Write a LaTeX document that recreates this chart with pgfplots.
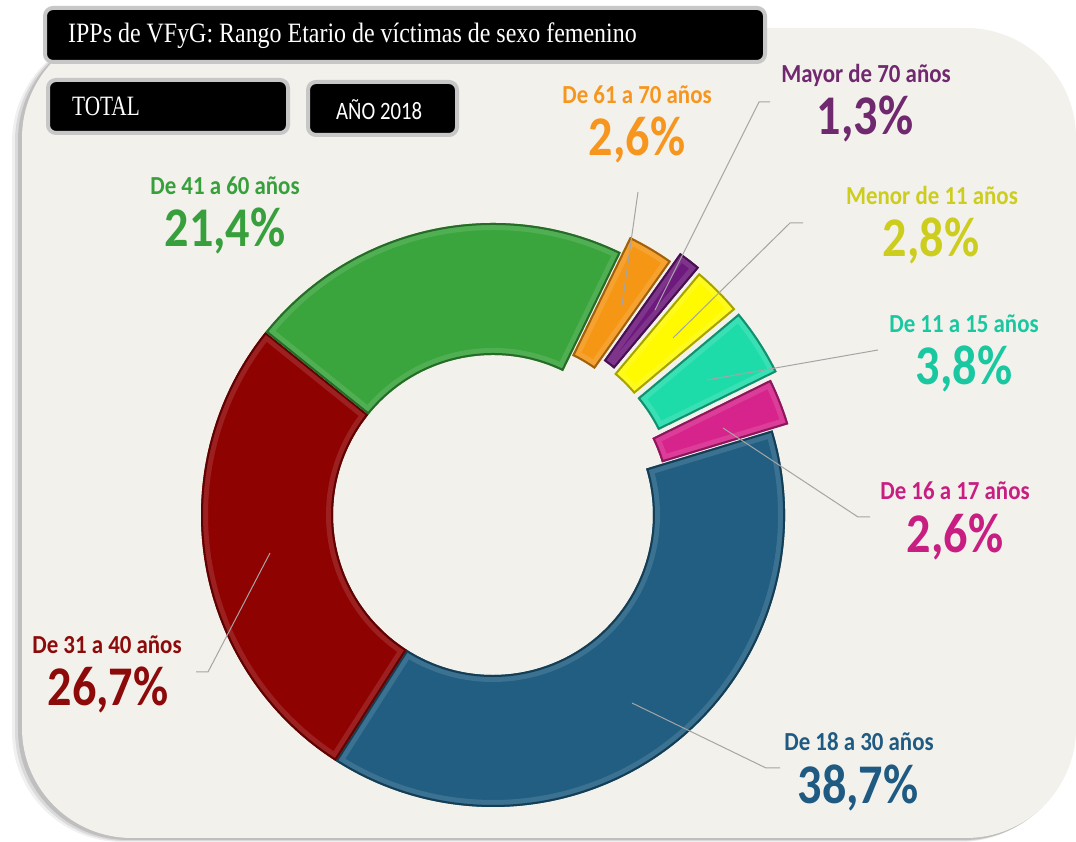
\documentclass[border=0pt]{standalone}
\usepackage{pgfplots}
\pgfplotsset{compat=1.18}
\usepackage{pgfplotstable}
\usepackage{graphicx}
\usepackage{fontspec}
\setmainfont{Carlito}
\newfontfamily\seriffont{Liberation Serif}

\definecolor{cardbg}{RGB}{243,241,236}
\definecolor{cblue}{RGB}{33,94,130}
\definecolor{cred}{RGB}{143,2,2}
\definecolor{cgreen}{RGB}{58,165,60}
\definecolor{corange}{RGB}{245,150,20}
\definecolor{cpurple}{RGB}{110,25,125}
\definecolor{cyellow}{RGB}{255,250,0}
\definecolor{cteal}{RGB}{30,220,170}
\definecolor{cpink}{RGB}{215,35,140}
\definecolor{lblue}{RGB}{31,90,130}
\definecolor{lred}{RGB}{140,10,10}
\definecolor{lgreen}{RGB}{55,160,60}
\definecolor{lorange}{RGB}{247,150,30}
\definecolor{lpurple}{RGB}{112,40,110}
\definecolor{lyellow}{RGB}{205,205,30}
\definecolor{lteal}{RGB}{25,200,160}
\definecolor{lpink}{RGB}{200,30,130}
\definecolor{leader}{RGB}{165,165,165}

% slices in clockwise order starting at 50 degrees; off = explosion offset
\pgfplotstableread{
name val off col
Menor11 2.8 26 cyellow
De11a15 3.8 26 cteal
De16a17 2.6 17 cpink
De18a30 38.7 0 cblue
De31a40 26.7 0 cred
De41a60 21.4 0 cgreen
De61a70 2.6 18 corange
Mayor70 1.3 30 cpurple
}\slices

\begin{document}
\begin{tikzpicture}
\begin{axis}[x=1pt,y=1pt,xmin=0,xmax=1076,ymin=0,ymax=842,hide axis,clip=false,
  scale only axis]
% background
\fill[white] (axis cs:0,0) rectangle (axis cs:1076,842);
% card shadow
\fill[black,opacity=0.06,rounded corners=110pt] (axis cs:12,0) rectangle (axis cs:1070,810);
\fill[black,opacity=0.09,rounded corners=110pt] (axis cs:15,1) rectangle (axis cs:1072,811);
\fill[black,opacity=0.12,rounded corners=110pt] (axis cs:18,2) rectangle (axis cs:1074,812);
\fill[cardbg,rounded corners=110pt] (axis cs:22,4) rectangle (axis cs:1076,814);

% donut slices
\pgfplotstablegetrowsof{\slices}
\pgfmathtruncatemacro\N{\pgfplotsretval-1}
\xdef\cur{50}
\pgfplotsforeachungrouped \i in {0,...,\N}{%
  \pgfplotstablegetelem{\i}{val}\of\slices \let\v=\pgfplotsretval
  \pgfplotstablegetelem{\i}{off}\of\slices \let\o=\pgfplotsretval
  \pgfplotstablegetelem{\i}{col}\of\slices \let\c=\pgfplotsretval
  \pgfmathsetmacro\a{\cur}
  \pgfmathsetmacro\b{\cur-\v*360/99.9}
  \pgfmathsetmacro\m{(\a+\b)/2}
  \pgfmathsetmacro\cx{493+\o*cos(\m)}
  \pgfmathsetmacro\cy{327+\o*sin(\m)}
  \pgfmathsetmacro\xa{\cx+292*cos(\a)}
  \pgfmathsetmacro\ya{\cy+292*sin(\a)}
  \pgfmathsetmacro\xb{\cx+160*cos(\b)}
  \pgfmathsetmacro\yb{\cy+160*sin(\b)}
  \edef\doit{%
    \noexpand\fill[\c] (axis cs:\xa,\ya) arc[start angle=\a,end angle=\b,radius=292pt] -- (axis cs:\xb,\yb) arc[start angle=\b,end angle=\a,radius=160pt] -- cycle;
    \noexpand\begin{scope}
    \noexpand\clip (axis cs:\xa,\ya) arc[start angle=\a,end angle=\b,radius=292pt] -- (axis cs:\xb,\yb) arc[start angle=\b,end angle=\a,radius=160pt] -- cycle;
    \noexpand\draw[line width=14pt,\c!70!white,opacity=0.4,line join=round] (axis cs:\xa,\ya) arc[start angle=\a,end angle=\b,radius=292pt] -- (axis cs:\xb,\yb) arc[start angle=\b,end angle=\a,radius=160pt] -- cycle;
    \noexpand\draw[line width=4pt,\c!65!black,line join=round] (axis cs:\xa,\ya) arc[start angle=\a,end angle=\b,radius=292pt] -- (axis cs:\xb,\yb) arc[start angle=\b,end angle=\a,radius=160pt] -- cycle;
    \noexpand\end{scope}
  }%
  \doit
  \xdef\cur{\b}
}

% leader lines
\draw[leader,line width=1pt] (axis cs:622,537) -- (axis cs:638,650);
\draw[leader,line width=1pt] (axis cs:655,532) -- (axis cs:759,740) -- (axis cs:770,740);
\draw[leader,line width=1pt] (axis cs:673,504) -- (axis cs:790,619) -- (axis cs:803,619);
\draw[leader,line width=1pt] (axis cs:707,462) -- (axis cs:878,492);
\draw[leader,line width=1pt] (axis cs:723,414) -- (axis cs:858,325) -- (axis cs:870,325);
\draw[leader,line width=1pt] (axis cs:632,139) -- (axis cs:766,74) -- (axis cs:780,74);
\draw[leader,line width=1pt] (axis cs:270,289) -- (axis cs:208,170) -- (axis cs:196,170);

% labels
\node[text=lgreen, font=\bfseries\fontsize{26}{28}\selectfont] at (axis cs:225,656) {\scalebox{0.88}[1]{De 41 a 60 años}};
\node[text=lgreen, font=\bfseries\fontsize{56}{58}\selectfont] at (axis cs:225,611) {\scalebox{0.86}[1]{21,4\%}};
\node[text=lorange, font=\bfseries\fontsize{26}{28}\selectfont] at (axis cs:637,747) {\scalebox{0.88}[1]{De 61 a 70 años}};
\node[text=lorange, font=\bfseries\fontsize{56}{58}\selectfont] at (axis cs:637,702) {\scalebox{0.86}[1]{2,6\%}};
\node[text=lpurple, font=\bfseries\fontsize{26}{28}\selectfont] at (axis cs:866,767) {\scalebox{0.88}[1]{Mayor de 70 años}};
\node[text=lpurple, font=\bfseries\fontsize{56}{58}\selectfont] at (axis cs:865,723) {\scalebox{0.86}[1]{1,3\%}};
\node[text=lyellow, font=\bfseries\fontsize{26}{28}\selectfont] at (axis cs:932,647) {\scalebox{0.88}[1]{Menor de 11 años}};
\node[text=lyellow, font=\bfseries\fontsize{56}{58}\selectfont] at (axis cs:931,601) {\scalebox{0.86}[1]{2,8\%}};
\node[text=lteal, font=\bfseries\fontsize{26}{28}\selectfont] at (axis cs:964,518) {\scalebox{0.88}[1]{De 11 a 15 años}};
\node[text=lteal, font=\bfseries\fontsize{56}{58}\selectfont] at (axis cs:964,473) {\scalebox{0.86}[1]{3,8\%}};
\node[text=lpink, font=\bfseries\fontsize{26}{28}\selectfont] at (axis cs:955,351) {\scalebox{0.88}[1]{De 16 a 17 años}};
\node[text=lpink, font=\bfseries\fontsize{56}{58}\selectfont] at (axis cs:955,305) {\scalebox{0.86}[1]{2,6\%}};
\node[text=lblue, font=\bfseries\fontsize{26}{28}\selectfont] at (axis cs:859,100) {\scalebox{0.88}[1]{De 18 a 30 años}};
\node[text=lblue, font=\bfseries\fontsize{56}{58}\selectfont] at (axis cs:858,54) {\scalebox{0.86}[1]{38,7\%}};
\node[text=lred, font=\bfseries\fontsize{26}{28}\selectfont] at (axis cs:107,197) {\scalebox{0.88}[1]{De 31 a 40 años}};
\node[text=lred, font=\bfseries\fontsize{56}{58}\selectfont] at (axis cs:108,152) {\scalebox{0.86}[1]{26,7\%}};

% title boxes
\draw[line width=4pt,draw=black!22,fill=black,rounded corners=8pt] (axis cs:45,780) rectangle (axis cs:765,834);
\node[anchor=west,text=white,inner sep=0pt] at (axis cs:68,806) {\seriffont\fontsize{28}{30}\selectfont\scalebox{0.855}[1]{IPPs de VFyG: Rango Etario de víctimas de sexo femenino}};
\draw[line width=4pt,draw=black!22,fill=black,rounded corners=8pt] (axis cs:48,709) rectangle (axis cs:288,762);
\node[anchor=west,text=white,inner sep=0pt] at (axis cs:72,736) {\seriffont\fontsize{28}{30}\selectfont\scalebox{0.76}[1]{TOTAL}};
\draw[line width=4pt,draw=black!22,fill=black,rounded corners=8pt] (axis cs:308,707) rectangle (axis cs:457,760);
\node[anchor=west,text=white,inner sep=0pt] at (axis cs:336,732) {\fontsize{25}{27}\selectfont\scalebox{0.83}[1]{AÑO 2018}};
\end{axis}
\end{tikzpicture}
\end{document}
